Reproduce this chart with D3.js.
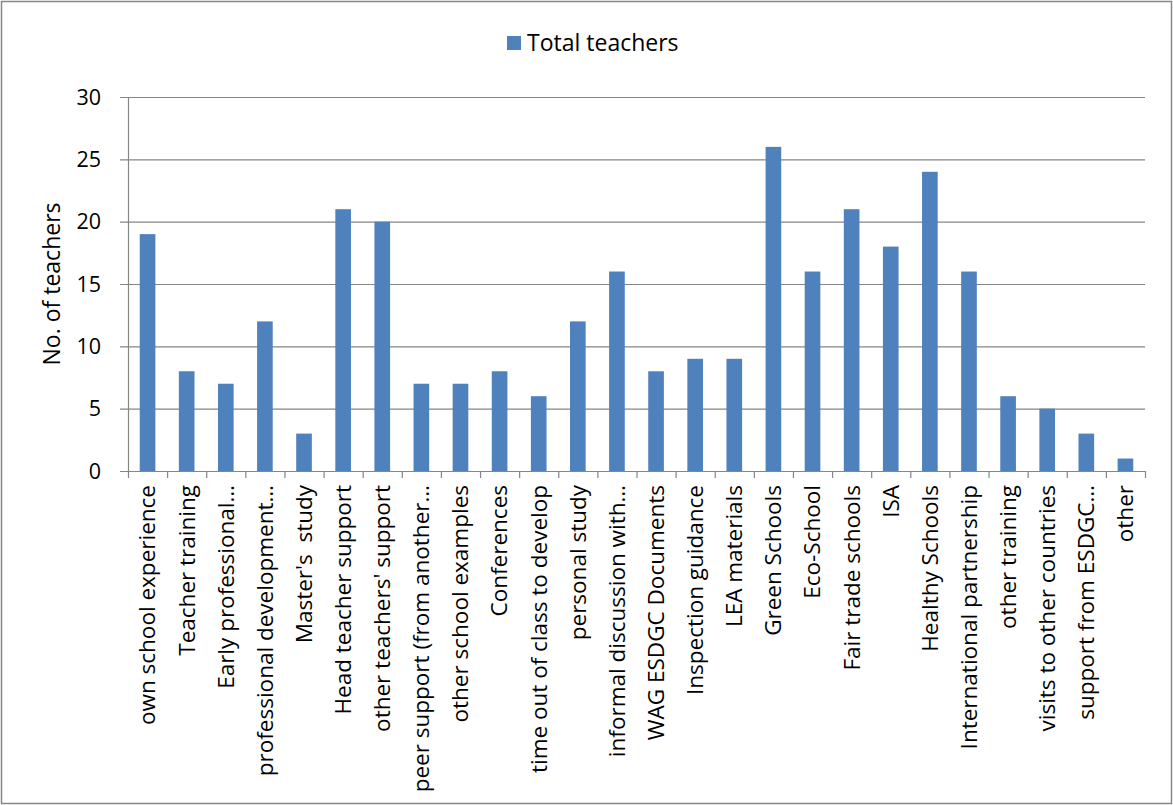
<!DOCTYPE html>
<html>
<head>
<meta charset="utf-8">
<script src="https://cdn.jsdelivr.net/npm/d3@7"></script>
<style>
  body { margin: 0; background: #fff; }
  svg text { font-family: "Open Sans", sans-serif; fill: #000; }
</style>
</head>
<body>
<div id="chart"></div>
<script>
const categories = [
  "own school experience", "Teacher training", "Early professional…",
  "professional development…", "Master's  study", "Head teacher support",
  "other teachers' support", "peer support (from another…", "other school examples",
  "Conferences", "time out of class to develop", "personal study",
  "informal discussion with…", "WAG ESDGC Documents", "Inspection guidance",
  "LEA materials", "Green Schools", "Eco-School", "Fair trade schools", "ISA",
  "Healthy Schools", "International partnership", "other training",
  "visits to other countries", "support from ESDGC…", "other"
];
const totalTeachers = [19, 8, 7, 12, 3, 21, 20, 7, 7, 8, 6, 12, 16, 8, 9, 9, 26, 16, 21, 18, 24, 16, 6, 5, 3, 1];
const yTicks = [0, 5, 10, 15, 20, 25, 30];
const seriesName = "Total teachers";

const W = 1173, H = 805;
const margin = { top: 97, right: 28, bottom: 334, left: 128 };
const width = W - margin.left - margin.right;
const height = H - margin.top - margin.bottom;
const gridColor = "#868686";

const root = d3.select("#chart").append("svg")
  .attr("width", W).attr("height", H);

// outer frame
root.append("rect")
  .attr("x", 1.5).attr("y", 1.5)
  .attr("width", W - 3).attr("height", H - 3)
  .attr("fill", "none").attr("stroke", gridColor).attr("stroke-width", 1.5);

const svg = root.append("g")
  .attr("transform", `translate(${margin.left}, ${margin.top})`);

const x = d3.scaleBand().domain(categories).range([0, width])
  .paddingInner(0.6).paddingOuter(0.3);
const y = d3.scaleLinear().domain([0, 30]).range([height, 0]);

// gridlines
svg.append("g")
  .selectAll("line")
  .data(yTicks)
  .join("line")
  .attr("x1", -8).attr("x2", width)
  .attr("y1", d => y(d) + 0.5).attr("y2", d => y(d) + 0.5)
  .attr("stroke", gridColor).attr("stroke-width", 1.2);

// y axis labels
svg.append("g")
  .selectAll("text")
  .data(yTicks)
  .join("text")
  .attr("x", -27).attr("y", d => y(d))
  .attr("dy", "0.35em")
  .attr("text-anchor", "end")
  .style("font-size", "21.5px")
  .text(d => d);

// y axis line
svg.append("line")
  .attr("x1", 0.5).attr("x2", 0.5).attr("y1", 0).attr("y2", height)
  .attr("stroke", gridColor).attr("stroke-width", 1.2);

// bars
svg.selectAll("rect.bar")
  .data(categories.map((c, i) => ({ c, v: totalTeachers[i] })))
  .join("rect")
  .attr("class", "bar")
  .attr("x", d => x(d.c))
  .attr("y", d => y(d.v))
  .attr("width", x.bandwidth())
  .attr("height", d => y(0) - y(d.v))
  .attr("fill", "#4f81bd");

// x axis tick marks at band edges
const edges = categories.map(c => x(c) - x.step() * x.paddingInner() / 2);
edges.push(width);
svg.append("g")
  .selectAll("line")
  .data(edges)
  .join("line")
  .attr("x1", d => d + 0.5).attr("x2", d => d + 0.5)
  .attr("y1", height).attr("y2", height + 7)
  .attr("stroke", gridColor).attr("stroke-width", 1.2);

// x labels
svg.append("g")
  .selectAll("text")
  .data(categories)
  .join("text")
  .attr("transform", d => `translate(${x(d) + x.bandwidth() / 2}, ${height + 14}) rotate(-90)`)
  .attr("dy", "0.35em")
  .attr("text-anchor", "end")
  .style("font-size", "22.5px")
  .style("white-space", "pre")
  .text(d => d);

// y axis title
root.append("text")
  .attr("transform", `translate(52, ${margin.top + height / 2}) rotate(-90)`)
  .attr("text-anchor", "middle")
  .attr("dy", "0.35em")
  .style("font-size", "23px")
  .text("No. of teachers");

// legend
const legend = root.append("g").attr("transform", "translate(507, 36)");
legend.append("rect")
  .attr("width", 14).attr("height", 14)
  .attr("fill", "#4f81bd");
legend.append("text")
  .attr("x", 20).attr("y", 7)
  .attr("dy", "0.35em")
  .style("font-size", "23px")
  .text(seriesName);
</script>
</body>
</html>
